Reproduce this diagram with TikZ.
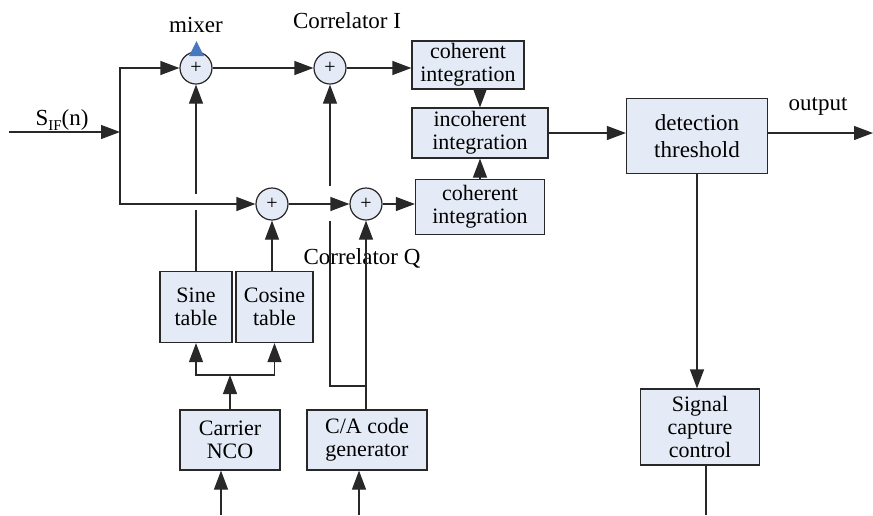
\documentclass[tikz,border=0pt]{standalone}
\usepackage{fontspec}
\setmainfont{Liberation Serif}
\usetikzlibrary{arrows.meta,positioning}
\definecolor{boxfill}{RGB}{228,235,246}
\definecolor{linegray}{RGB}{40,40,40}
\definecolor{mixblue}{RGB}{72,120,192}
\tikzset{
  blk/.style={draw=linegray, fill=boxfill, line width=0.6pt, align=center, inner sep=0.5pt,
    font=\fontsize{11}{11.5}\selectfont},
  sum/.style={circle, draw=linegray, fill=boxfill, line width=0.6pt, minimum size=16pt,
    inner sep=0pt, font=\fontsize{10}{10}\selectfont},
  wire/.style={draw=linegray, line width=0.6pt},
  sig/.style={wire, -{Triangle[length=9.5pt,width=7pt]}},
  lbl/.style={font=\fontsize{11.5}{11.5}\selectfont, inner sep=1pt}
}
\begin{document}
\begin{tikzpicture}[x=0.5pt, y=-0.5pt]
\useasboundingbox (0,0) rectangle (873,515);

% mixers and correlators
\node[sum] (mix) at (196,68) {+};
\node[sum] (corrI) at (330,68) {+};
\node[sum] (cosmix) at (272,204) {+};
\node[sum] (corrQ) at (366,204) {+};

% blocks
\node[blk, minimum width=56pt, minimum height=24pt] (cohI) at (468,65) {coherent\\integration};
\node[blk, minimum width=68pt, minimum height=25pt] (incoh) at (480,133) {incoherent\\integration};
\node[blk, minimum width=64.5pt, minimum height=27.5pt] (cohQ) at (480,207) {coherent\\integration};
\node[blk, minimum width=70.5pt, minimum height=37.5pt, font=\fontsize{11.5}{13.5}\selectfont] (detect) at (697,136) {detection\\threshold};
\node[blk, minimum width=59.5pt, minimum height=38pt, font=\fontsize{11}{11.5}\selectfont] (capture) at (700,427) {Signal\\capture\\control};
\node[blk, minimum width=36pt, minimum height=35.5pt] (sine) at (196,307) {Sine\\table};
\node[blk, minimum width=38.5pt, minimum height=35.5pt] (cosine) at (274.5,307) {Cosine\\table};
\node[blk, minimum width=50pt, minimum height=30pt] (nco) at (230,440) {Carrier\\NCO};
\node[blk, minimum width=60pt, minimum height=30pt] (cagen) at (367,440) {C/A code\\generator};

% labels
\node[lbl] (mixlbl) at (196,25) {mixer};
\node[lbl] (corrIlbl) at (347,21) {Correlator I};
\node[lbl] (corrQlbl) at (362,258) {Correlator Q};
\node[lbl] (outlbl) at (818,106) {output};
\node[lbl] (siflbl) at (62,120) {S\raisebox{-0.45ex}{\fontsize{7.5}{7.5}\selectfont IF}(n)};

% free ends and bends
\coordinate (in) at (9,132);
\coordinate (br) at (120,132);
\coordinate (out) at (873,133);
\coordinate (split) at (230,375);
\coordinate (caj) at (366,386);
\coordinate (hopA1) at (196,194);
\coordinate (hopA2) at (196,210);
\coordinate (hopB1) at (330,186);
\coordinate (hopB2) at (330,221);
\coordinate (ncoin) at (221,515);
\coordinate (cain) at (359,515);
\coordinate (capout) at (706,515);

% signal path
\draw[sig] (in) -- (br);
\draw[sig] (br) |- (mix);
\draw[sig] (br) |- (cosmix);
\draw[sig] (mix) -- (corrI);
\draw[sig] (cosmix) -- (corrQ);
\draw[sig] (corrI.east) -- (corrI.east -| cohI.west);
\draw[sig] (corrQ.east) -- (corrQ.east -| cohQ.west);
\draw[sig] (cohI.south -| incoh.north) -- (incoh.north);
\draw[sig] (cohQ.north -| incoh.south) -- (incoh.south);
\draw[sig] (incoh.east) -- (incoh.east -| detect.west);
\draw[sig] (detect.east |- out) -- (out);
\draw[sig] (detect.south) -- (detect.south |- capture.north);
\draw[wire] (capture.south -| capout) -- (capout);

% local oscillator
\draw[wire] (sine.north) -- (hopA2);
\draw[sig] (hopA1) -- (mix);
\draw[sig] (cosine.north -| cosmix) -- (cosmix.south);
\draw[sig] (nco.north) -- (split);
\draw[sig] (split) -| (sine.south);
\draw[sig] (split) -| (cosine.south);
\draw[sig] (ncoin) -- (ncoin |- nco.south);

% code generator
\draw[sig] (cagen.north -| corrQ) -- (corrQ.south);
\draw[wire] (caj) -| (hopB2);
\draw[sig] (hopB1) -- (corrI.south);
\draw[sig] (cain) -- (cain |- cagen.south);

\fill[mixblue] (189,56) -- (204,56) -- (196.5,41) -- cycle;
\end{tikzpicture}
\end{document}
